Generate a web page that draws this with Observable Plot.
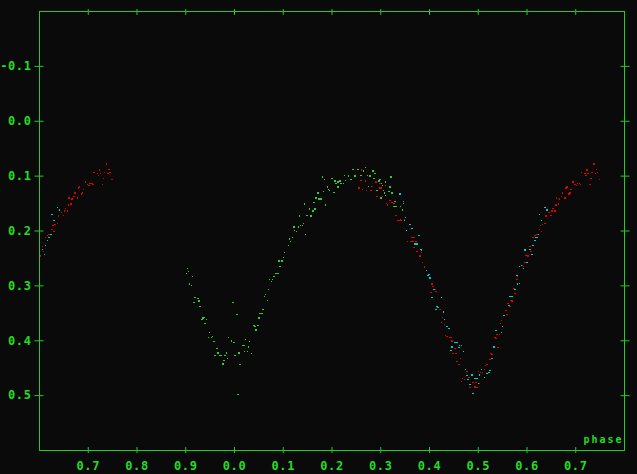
<!DOCTYPE html>
<html>
<head>
<meta charset="utf-8">
<script src="https://cdn.jsdelivr.net/npm/d3@7"></script>
<script src="https://cdn.jsdelivr.net/npm/@observablehq/plot@0.6"></script>
<style>
  html, body { margin: 0; padding: 0; background: #0a0a0a; }
</style>
</head>
<body>
<div id="chart"></div>
<script>
// Phase (0..1) and magnitude of each observation, per series
const greenPoints = [
  [0.904,0.268],[0.906,0.274],[0.902,0.277],[0.914,0.283],[0.908,0.297],[0.912,0.299],
  [0.919,0.321],[0.925,0.323],[0.917,0.330],[0.927,0.328],[0.929,0.338],[0.997,0.330],
  [0.005,0.352],[0.933,0.361],[0.935,0.359],[0.937,0.358],[0.943,0.361],[0.939,0.369],
  [0.949,0.385],[0.947,0.394],[0.953,0.394],[0.955,0.392],[0.958,0.401],[0.988,0.394],
  [0.994,0.400],[0.999,0.403],[0.023,0.398],[0.031,0.401],[0.017,0.409],[0.019,0.409],
  [0.029,0.411],[0.964,0.414],[0.966,0.422],[0.960,0.427],[0.970,0.427],[0.972,0.427],
  [0.980,0.427],[0.984,0.422],[0.986,0.432],[0.978,0.436],[0.976,0.442],[0.001,0.427],
  [0.009,0.422],[0.021,0.420],[0.027,0.420],[0.035,0.423],[0.011,0.443],[0.007,0.498],
  [0.040,0.372],[0.042,0.374],[0.048,0.372],[0.044,0.380],[0.050,0.359],[0.052,0.350],
  [0.056,0.350],[0.058,0.343],[0.068,0.327],[0.062,0.319],[0.064,0.316],[0.070,0.307],
  [0.072,0.288],[0.076,0.292],[0.078,0.288],[0.081,0.283],[0.085,0.277],[0.089,0.277],
  [0.093,0.265],[0.091,0.255],[0.097,0.255],[0.101,0.248],[0.103,0.239],[0.111,0.226],
  [0.113,0.215],[0.115,0.219],[0.119,0.212],[0.123,0.199],[0.127,0.201],[0.131,0.193],
  [0.122,0.193],[0.135,0.190],[0.139,0.190],[0.142,0.186],[0.133,0.173],[0.146,0.206],
  [0.149,0.172],[0.157,0.173],[0.154,0.160],[0.161,0.164],[0.165,0.160],[0.144,0.151],
  [0.163,0.148],[0.167,0.140],[0.171,0.131],[0.173,0.142],[0.177,0.142],[0.183,0.128],
  [0.187,0.153],[0.191,0.120],[0.193,0.124],[0.195,0.126],[0.204,0.130],[0.181,0.102],
  [0.185,0.106],[0.200,0.104],[0.206,0.109],[0.208,0.113],[0.212,0.111],[0.212,0.120],
  [0.216,0.109],[0.218,0.113],[0.224,0.113],[0.228,0.108],[0.226,0.099],[0.234,0.100],
  [0.239,0.106],[0.243,0.088],[0.247,0.100],[0.253,0.088],[0.259,0.099],[0.265,0.091],
  [0.269,0.084],[0.273,0.099],[0.278,0.100],[0.284,0.091],[0.288,0.095],[0.286,0.104],
  [0.298,0.106],[0.296,0.109],[0.302,0.113],[0.304,0.117],[0.275,0.119],[0.306,0.126],
  [0.310,0.111],[0.321,0.102],[0.319,0.120],[0.317,0.128],[0.292,0.126],[0.323,0.131],
  [0.308,0.131],[0.300,0.140],[0.310,0.135],[0.329,0.146],[0.327,0.155],[0.331,0.155],
  [0.341,0.155],[0.345,0.162],[0.349,0.181]
];

const redPoints = [
  [0.261,0.089],[0.259,0.108],[0.269,0.109],[0.255,0.122],[0.263,0.124],[0.271,0.126],
  [0.280,0.126],[0.282,0.119],[0.290,0.111],[0.298,0.113],[0.298,0.122],[0.302,0.122],
  [0.310,0.117],[0.292,0.137],[0.304,0.137],[0.319,0.144],[0.323,0.148],[0.312,0.150],
  [0.314,0.153],[0.327,0.150],[0.331,0.172],[0.335,0.181],[0.339,0.181],[0.341,0.179],
  [0.343,0.181],[0.349,0.179],[0.364,0.212],[0.368,0.212],[0.355,0.219],[0.362,0.219],
  [0.366,0.219],[0.372,0.219],[0.368,0.230],[0.374,0.237],[0.384,0.239],[0.380,0.246],
  [0.386,0.257],[0.390,0.266],[0.405,0.297],[0.407,0.301],[0.411,0.307],[0.413,0.310],
  [0.403,0.312],[0.421,0.343],[0.423,0.343],[0.427,0.358],[0.425,0.367],[0.431,0.370],
  [0.436,0.392],[0.433,0.390],[0.442,0.394],[0.444,0.394],[0.446,0.400],[0.452,0.414],
  [0.448,0.423],[0.454,0.423],[0.464,0.432],[0.456,0.438],[0.460,0.443],[0.477,0.456],
  [0.468,0.469],[0.472,0.471],[0.466,0.474],[0.481,0.467],[0.489,0.476],[0.495,0.476],
  [0.503,0.478],[0.483,0.485],[0.493,0.484],[0.497,0.485],[0.501,0.456],[0.505,0.458],
  [0.509,0.458],[0.515,0.445],[0.518,0.443],[0.513,0.452],[0.524,0.434],[0.526,0.423],
  [0.528,0.425],[0.540,0.412],[0.534,0.394],[0.536,0.396],[0.538,0.389],[0.544,0.389],
  [0.546,0.369],[0.548,0.363],[0.559,0.352],[0.557,0.345],[0.561,0.332],[0.567,0.327],
  [0.569,0.328],[0.565,0.338],[0.575,0.314],[0.573,0.305],[0.579,0.288],[0.581,0.283],
  [0.585,0.296],[0.596,0.257],[0.593,0.265],[0.591,0.263],[0.598,0.245],[0.602,0.246],
  [0.608,0.237],[0.606,0.228],[0.612,0.212],[0.616,0.208],[0.620,0.206],[0.630,0.201],
  [0.626,0.197],[0.628,0.190],[0.632,0.188],[0.637,0.186],[0.639,0.173],[0.649,0.172],
  [0.645,0.166],[0.651,0.164],[0.657,0.164],[0.653,0.159],[0.659,0.153],[0.665,0.151],
  [0.661,0.140],[0.667,0.142],[0.671,0.137],[0.678,0.140],[0.673,0.131],[0.686,0.133],
  [0.688,0.131],[0.690,0.124],[0.680,0.122],[0.682,0.120],[0.694,0.111],[0.698,0.115],
  [0.702,0.117],[0.704,0.113],[0.708,0.113],[0.710,0.115],[0.712,0.093],[0.719,0.095],
  [0.721,0.099],[0.725,0.095],[0.723,0.089],[0.733,0.093],[0.731,0.104],[0.729,0.115],
  [0.737,0.078],[0.741,0.095],[0.743,0.088],[0.745,0.093],[0.749,0.106]
];

const cyanPoints = [
  [0.339,0.133],[0.347,0.146],[0.347,0.150],[0.351,0.175],[0.353,0.199],[0.360,0.188],
  [0.364,0.195],[0.378,0.208],[0.370,0.224],[0.374,0.224],[0.382,0.234],[0.384,0.235],
  [0.394,0.272],[0.399,0.279],[0.397,0.281],[0.401,0.286],[0.409,0.307],[0.405,0.321],
  [0.425,0.321],[0.415,0.338],[0.417,0.339],[0.413,0.343],[0.429,0.348],[0.431,0.361],
  [0.436,0.374],[0.440,0.378],[0.452,0.403],[0.456,0.403],[0.446,0.411],[0.460,0.412],
  [0.462,0.409],[0.466,0.409],[0.444,0.418],[0.470,0.420],[0.474,0.452],[0.487,0.462],
  [0.477,0.463],[0.479,0.471],[0.493,0.469],[0.497,0.469],[0.483,0.480],[0.489,0.496],
  [0.501,0.478],[0.507,0.452],[0.503,0.462],[0.513,0.467],[0.518,0.460],[0.524,0.454],
  [0.522,0.458],[0.528,0.432],[0.532,0.411],[0.536,0.381],[0.548,0.385],[0.550,0.374],
  [0.552,0.354],[0.554,0.354],[0.563,0.336],[0.565,0.319],[0.569,0.319],[0.575,0.307],
  [0.581,0.297],[0.585,0.296],[0.579,0.281],[0.585,0.265],[0.593,0.268],[0.589,0.263],
  [0.600,0.257],[0.610,0.243],[0.606,0.234],[0.596,0.235],[0.612,0.226],[0.616,0.217],
  [0.620,0.212],[0.618,0.212],[0.624,0.206],[0.630,0.181],[0.626,0.170],[0.641,0.162],
  [0.637,0.157]
];

const xTicks = [0.7, 0.8, 0.9, 1.0, 1.1, 1.2, 1.3, 1.4, 1.5, 1.6, 1.7];
const yTicks = [-0.1, 0.0, 0.1, 0.2, 0.3, 0.4, 0.5];
const xLabel = "phase";

const GREEN_PTS = "#33cc33";
const RED_PTS = "#e00000";
const CYAN_PTS = "#00cccc";
const AXIS = "#22cc22";
const TEXT = "#22dd22";

// each phase is shown twice (cycle and next cycle); frame clips the rest
function wrap(points) {
  const rows = [];
  for (const [p, m] of points) {
    rows.push({x: p, y: m});
    rows.push({x: p + 1, y: m});
  }
  return rows;
}

const dotOpts = (fill) => ({x: "x", y: "y", fill, r: 0.85, symbol: "square", clip: true, shapeRendering: "crispEdges"});
const blank = () => "";

const chart = Plot.plot({
  width: 637,
  height: 474,
  marginLeft: 39,
  marginRight: 13,
  marginTop: 11,
  marginBottom: 24,
  style: {
    background: "#0a0a0a",
    color: AXIS,
    fontFamily: "'DejaVu Sans Mono', monospace",
    fontWeight: "bold",
    fontSize: "12px"
  },
  x: {domain: [0.6, 1.8]},
  y: {domain: [-0.2, 0.6], reverse: true},
  marks: [
    Plot.dot(wrap(greenPoints), dotOpts(GREEN_PTS)),
    Plot.dot(wrap(redPoints), dotOpts(RED_PTS)),
    Plot.dot(wrap(cyanPoints), dotOpts(CYAN_PTS)),
    Plot.frame({stroke: AXIS}),
    Plot.axisX(xTicks, {anchor: "bottom", tickSize: 6, dy: -3, tickFormat: blank, label: null}),
    Plot.axisX(xTicks, {anchor: "top", tickSize: 6, dy: 3, tickFormat: blank, label: null}),
    Plot.axisX(xTicks, {anchor: "bottom", tickSize: 0, tickPadding: 11, tickFormat: d => (d % 1).toFixed(1), label: null, fill: TEXT}),
    Plot.axisY(yTicks, {anchor: "left", tickSize: 9, dx: 4.5, tickFormat: blank, label: null}),
    Plot.axisY(yTicks, {anchor: "right", tickSize: 9, dx: -4.5, tickFormat: blank, label: null}),
    Plot.axisY(yTicks, {anchor: "left", tickSize: 0, tickPadding: 8, tickFormat: d => d.toFixed(1), label: null, fill: TEXT}),
    Plot.text([xLabel], {frameAnchor: "bottom-right", dx: -1, dy: -8, textAnchor: "end", lineAnchor: "bottom", fill: TEXT, fontSize: 10})
  ]
});

// pixel-font look: wider letter spacing on all labels
d3.select(chart).selectAll("text").style("letter-spacing", "0.6px");
d3.select(chart).selectAll("text").filter(function () { return this.textContent === xLabel; }).style("letter-spacing", "2px");

document.getElementById("chart").appendChild(chart);
</script>
</body>
</html>
